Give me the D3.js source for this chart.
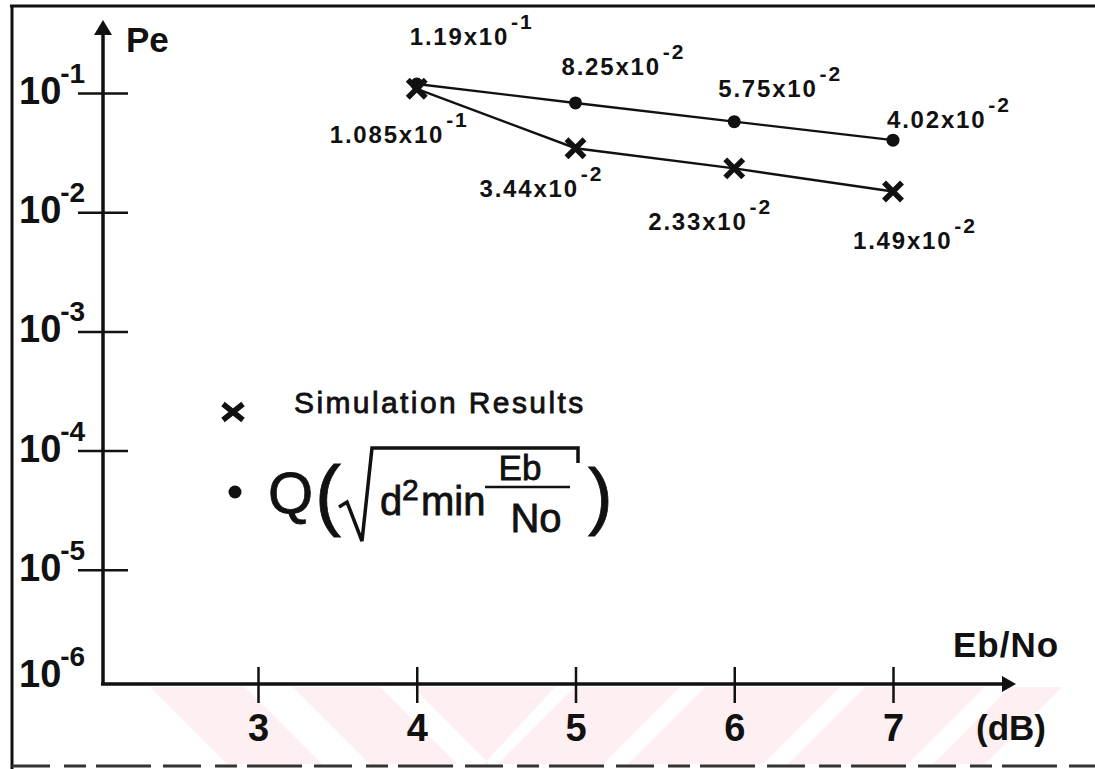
<!DOCTYPE html>
<html>
<head>
<meta charset="utf-8">
<script src="https://d3js.org/d3.v7.min.js"></script>
<style>
  body { margin: 0; background: #fff; }
  text { font-family: 'Liberation Sans', Arial, sans-serif; fill: #111; }
  .b { font-weight: bold; }
  .thick { stroke: #111; stroke-width: 0.8px; }
</style>
</head>
<body>
<div id="chart"></div>
<script>
// Eb/No (dB)
var ebno = [4, 5, 6, 7];
// simulation results (crosses)
var simPe = [1.085e-1, 3.44e-2, 2.33e-2, 1.49e-2];
// Q(sqrt(d2min Eb/No)) (dots)
var theoryPe = [1.19e-1, 8.25e-2, 5.75e-2, 4.02e-2];
// printed value labels: mantissa, exponent
var simLabels = [["1.085", "-1"], ["3.44", "-2"], ["2.33", "-2"], ["1.49", "-2"]];
var theoryLabels = [["1.19", "-1"], ["8.25", "-2"], ["5.75", "-2"], ["4.02", "-2"]];
var xTicks = [3, 4, 5, 6, 7];
var yTicks = [1e-1, 1e-2, 1e-3, 1e-4, 1e-5, 1e-6];
var yExp = ["-1", "-2", "-3", "-4", "-5", "-6"];

// label placement relative to its point (dx, dy)
var theoryOff = [[-7, -39], [-14, -28], [-16, -25], [-6, -12]];
var simOff = [[-87, 54], [-96, 49], [-86, 62], [-40, 57]];

var W = 1095, H = 769;
var axisX = 103, axisY = 684;

var svg = d3.select("#chart").append("svg")
  .attr("width", W).attr("height", H);

var x = d3.scaleLinear().domain([3, 7]).range([258, 893]);
var y = d3.scaleLog().domain([1e-6, 1e-1]).range([689, 93]);

// watermark stripes under the x axis
var pink = "#fdeff2";
var wm = svg.append("g");
var bandTop = 687, bandBot = 764, slant = bandBot - bandTop;
[[150, 245], [293, 380]].forEach(function(b) {
  wm.append("polygon").attr("fill", pink).attr("points",
    [[b[0], bandTop], [b[1], bandTop], [b[1] + slant, bandBot], [b[0] + slant, bandBot]].join(" "));
});
wm.append("polygon").attr("fill", pink).attr("points",
  [[413, bandTop], [555, bandTop], [484, bandBot], [489, bandBot]].join(" "));
[[575, 680], [705, 840], [865, 985], [1010, 1062]].forEach(function(b) {
  wm.append("polygon").attr("fill", pink).attr("points",
    [[b[0], bandTop], [b[1], bandTop], [b[1] - slant, bandBot], [b[0] - slant, bandBot]].join(" "));
});

// frame
svg.append("line").attr("x1", 12).attr("x2", 12).attr("y1", 5).attr("y2", H)
  .attr("stroke", "#111").attr("stroke-width", 3);
svg.append("line").attr("x1", 10).attr("x2", W).attr("y1", 6).attr("y2", 6)
  .attr("stroke", "#111").attr("stroke-width", 3);
svg.append("line").attr("x1", 12).attr("x2", W).attr("y1", 766).attr("y2", 766)
  .attr("stroke", "#333").attr("stroke-width", 3).attr("stroke-dasharray", "38,14,22,10,55,12");

// x axis
var gx = svg.append("g").attr("transform", "translate(0," + axisY + ")")
  .call(d3.axisBottom(x).tickValues(xTicks).tickSize(18).tickFormat(d3.format("d")));
gx.select(".domain").remove();
gx.selectAll(".tick line").attr("y1", -17).attr("y2", 19).attr("stroke", "#111").attr("stroke-width", 2.5);
gx.selectAll(".tick text").attr("y", 57).attr("dy", null)
  .attr("class", "b").style("font-size", "38px").attr("font-family", null).attr("fill", "#111");

// y axis
var gy = svg.append("g").attr("transform", "translate(" + axisX + ",0)")
  .call(d3.axisLeft(y).tickValues(yTicks.slice(0, 5)).tickSize(25).tickFormat(""));
gy.select(".domain").remove();
gy.selectAll(".tick line").attr("x1", -25).attr("x2", 25).attr("stroke", "#111").attr("stroke-width", 2.5);

var yl = svg.append("g").selectAll("text").data(yTicks).join("text")
  .attr("class", "b")
  .attr("x", 19)
  .attr("y", function(d, i) { return y(d) + (i == yTicks.length - 1 ? -2 : 11); })
  .style("font-size", "38px");
yl.append("tspan").text("10");
yl.append("tspan").attr("dx", -1).attr("dy", -21).style("font-size", "28px")
  .text(function(d, i) { return yExp[i]; });

// axis lines with arrows
svg.append("line").attr("x1", axisX).attr("x2", axisX).attr("y1", axisY + 1).attr("y2", 30)
  .attr("stroke", "#111").attr("stroke-width", 3.5);
svg.append("polygon").attr("fill", "#111")
  .attr("points", [[axisX, 20], [axisX - 9, 35], [axisX + 9, 35]].join(" "));
svg.append("line").attr("x1", axisX - 2).attr("x2", 1006).attr("y1", axisY).attr("y2", axisY)
  .attr("stroke", "#111").attr("stroke-width", 3.5);
svg.append("polygon").attr("fill", "#111")
  .attr("points", [[1016, axisY], [1002, axisY - 8], [1002, axisY + 8]].join(" "));

svg.append("text").attr("class", "b").attr("x", 126).attr("y", 52)
  .style("font-size", "35px").text("Pe");
svg.append("text").attr("class", "b").attr("x", 953).attr("y", 657)
  .style("font-size", "35px").style("letter-spacing", "1px").text("Eb/No");
svg.append("text").attr("class", "b").attr("x", 976).attr("y", 740)
  .style("font-size", "35px").text("(dB)");

// series
var theory = ebno.map(function(e, i) { return { x: e, v: theoryPe[i], lab: theoryLabels[i], off: theoryOff[i] }; });
var sim = ebno.map(function(e, i) { return { x: e, v: simPe[i], lab: simLabels[i], off: simOff[i] }; });

var line = d3.line().x(function(d) { return x(d.x); }).y(function(d) { return y(d.v); });

svg.append("path").datum(theory).attr("d", line)
  .attr("fill", "none").attr("stroke", "#111").attr("stroke-width", 2.4);
svg.append("path").datum(sim).attr("d", line)
  .attr("fill", "none").attr("stroke", "#111").attr("stroke-width", 2.4);

svg.selectAll(".dot").data(theory).join("circle").attr("class", "dot")
  .attr("cx", function(d) { return x(d.x); }).attr("cy", function(d) { return y(d.v); })
  .attr("r", 6.5).attr("fill", "#111");

function cross(cx, cy, sx, sy) {
  return "M" + (cx - sx) + "," + (cy - sy) + "L" + (cx + sx) + "," + (cy + sy) +
    "M" + (cx - sx) + "," + (cy + sy) + "L" + (cx + sx) + "," + (cy - sy);
}
svg.selectAll(".cross").data(sim).join("path").attr("class", "cross")
  .attr("d", function(d) { return cross(x(d.x), y(d.v), 9, 9); })
  .attr("stroke", "#111").attr("stroke-width", 5.5).attr("fill", "none");

// value labels
function addLabels(data) {
  var t = svg.append("g").selectAll("text").data(data).join("text")
    .attr("class", "b")
    .attr("x", function(d) { return x(d.x) + d.off[0]; })
    .attr("y", function(d) { return y(d.v) + d.off[1]; })
    .style("font-size", "24px").style("letter-spacing", "1.8px");
  t.append("tspan").text(function(d) { return d.lab[0] + "x10"; });
  t.append("tspan").attr("dx", 2).attr("dy", -16).style("font-size", "21px")
    .text(function(d) { return d.lab[1]; });
}
addLabels(theory);
addLabels(sim);

// legend
var lg = svg.append("g");
lg.append("path").attr("d", cross(233, 412, 10, 8))
  .attr("stroke", "#111").attr("stroke-width", 5.5).attr("fill", "none");
lg.append("text").attr("class", "thick").attr("x", 294).attr("y", 413).style("font-size", "30px")
  .style("letter-spacing", "2.4px").text("Simulation Results");
lg.append("circle").attr("cx", 235).attr("cy", 492).attr("r", 6.5).attr("fill", "#111");
lg.append("text").attr("class", "thick").attr("x", 268).attr("y", 513).style("font-size", "58px").text("Q");
lg.append("text").attr("class", "thick").attr("x", 315).attr("y", 521).style("font-size", "78px").text("(");
lg.append("path").attr("d", "M339,507L347,502L362,541L372,448L578,448L578,463")
  .attr("stroke", "#111").attr("stroke-width", 3.5).attr("fill", "none");
lg.append("text").attr("class", "thick").attr("x", 380).attr("y", 515).style("font-size", "40px").text("d");
lg.append("text").attr("class", "thick").attr("x", 402).attr("y", 500).style("font-size", "30px").text("2");
lg.append("text").attr("class", "thick").attr("x", 421).attr("y", 515).style("font-size", "40px").text("min");
lg.append("line").attr("x1", 485).attr("x2", 570).attr("y1", 487).attr("y2", 487)
  .attr("stroke", "#111").attr("stroke-width", 2.5);
lg.append("text").attr("class", "thick").attr("x", 520).attr("y", 480).attr("text-anchor", "middle")
  .style("font-size", "35px").text("Eb");
lg.append("text").attr("class", "thick").attr("x", 536).attr("y", 532).attr("text-anchor", "middle")
  .style("font-size", "40px").text("No");
lg.append("text").attr("class", "thick").attr("x", 588).attr("y", 521).style("font-size", "74px").text(")");
</script>
</body>
</html>
